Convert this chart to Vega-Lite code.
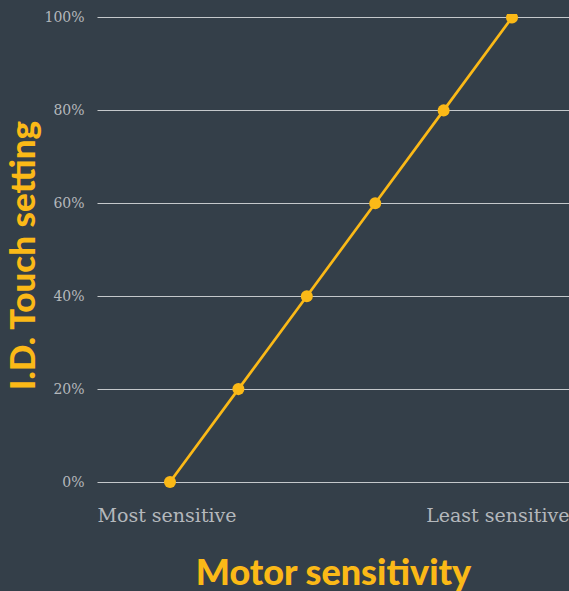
{
  "$schema": "https://vega.github.io/schema/vega-lite/v6.json",
  "width": 472,
  "height": 482,
  "autosize": "none",
  "padding": {"left": 97, "top": 14, "right": 0, "bottom": 95},
  "background": "#343f49",
  "config": {"view": {"stroke": null}},
  "data": {"values": [
    {"motor": 0, "setting": 0},
    {"motor": 1, "setting": 0.2},
    {"motor": 2, "setting": 0.4},
    {"motor": 3, "setting": 0.6},
    {"motor": 4, "setting": 0.8},
    {"motor": 5, "setting": 1.0}
  ]},
  "encoding": {
    "x": {"field": "motor", "type": "quantitative",
      "scale": {"domain": [-1.067, 5.833], "nice": false, "zero": false},
      "axis": {"values": [-1.067, 5.833], "labelFlush": true, "grid": false, "domain": false, "ticks": false,
        "labelExpr": "datum.value < 2 ? 'Most sensitive' : 'Least sensitive'",
        "labelFont": "DejaVu Serif", "labelFontSize": 19, "labelColor": "#b4b8bc", "labelPadding": 25, "labelBaseline": "alphabetic",
        "title": "Motor sensitivity", "titleFont": "Lato", "titleFontWeight": 900, "titleFontSize": 36,
        "titleColor": "#fbb917", "titleBaseline": "alphabetic", "titleY": 88}},
    "y": {"field": "setting", "type": "quantitative",
      "scale": {"domain": [-0.0301, 1.0075], "nice": false, "zero": false},
      "axis": {"values": [0, 0.2, 0.4, 0.6, 0.8, 1.0], "format": ".0%", "grid": true, "gridColor": "#c4c8cb", "gridWidth": 1,
        "domain": false, "ticks": false, "labelFont": "DejaVu Serif", "labelFontSize": 14, "labelColor": "#b4b8bc",
        "labelPadding": 13, "title": "I.D. Touch setting", "titleFont": "Lato", "titleFontWeight": 900, "titleFontSize": 35,
        "titleColor": "#fbb917", "titleX": -56}}
  },
  "layer": [
    {"mark": {"type": "line", "color": "#fbb917", "strokeWidth": 2.7, "clip": true}},
    {"mark": {"type": "point", "filled": true, "opacity": 1, "color": "#fbb917", "size": 145, "clip": true}}
  ]
}
